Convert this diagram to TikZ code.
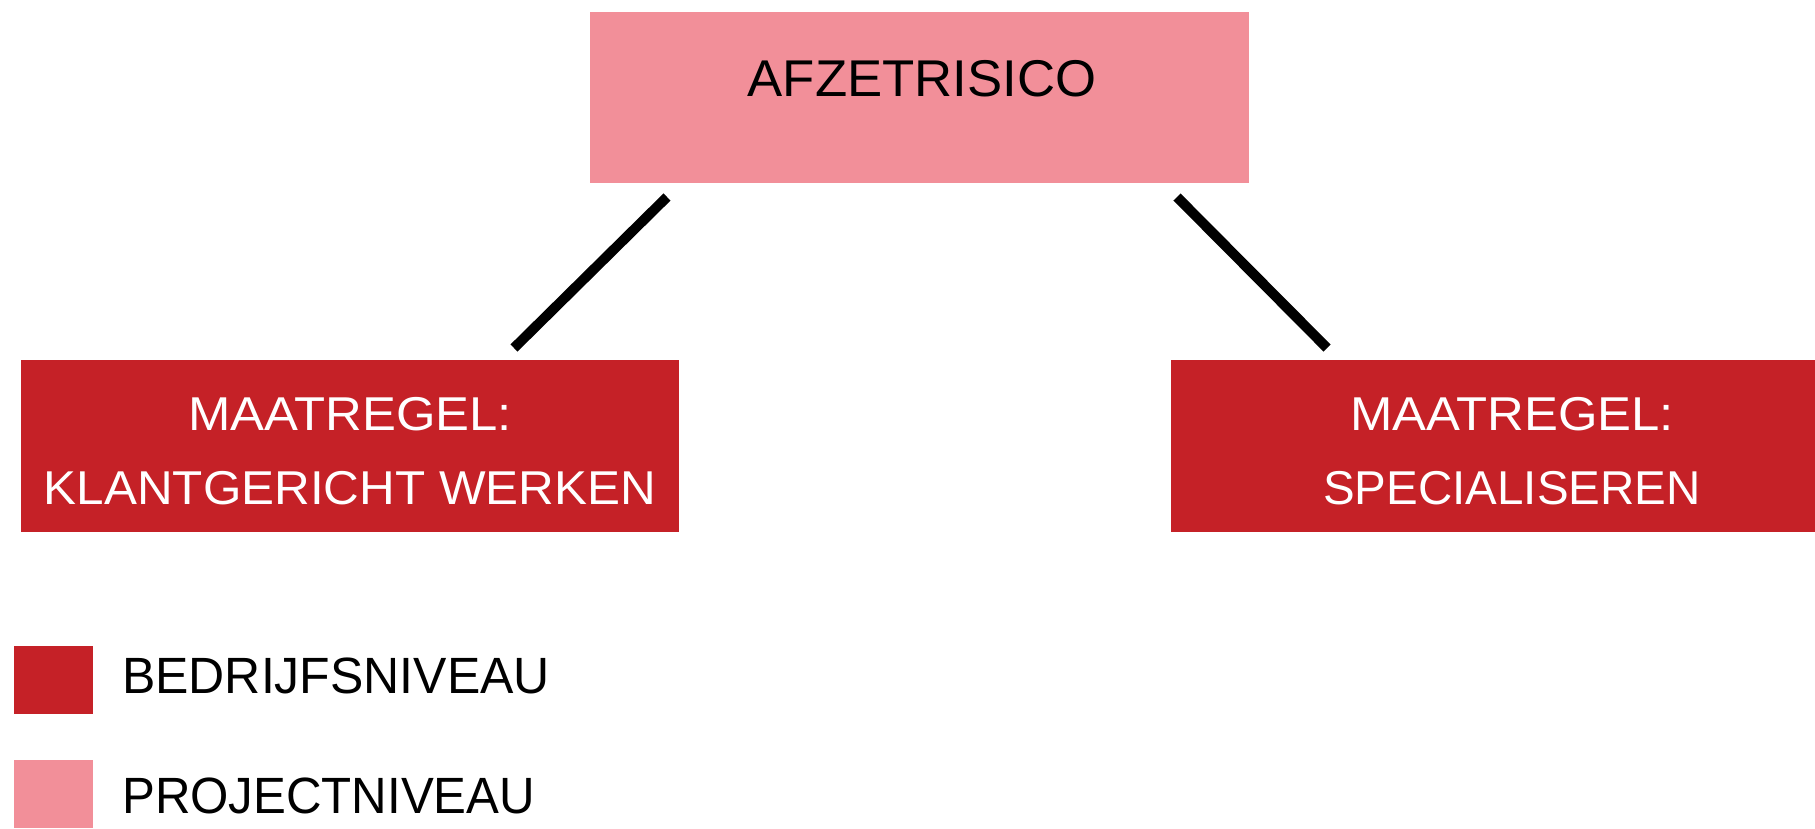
\documentclass[tikz,border=0pt]{standalone}
\usepackage{fontspec}
\setmainfont{Liberation Sans}
\usepackage{graphicx}
\definecolor{pinkbox}{RGB}{242,143,153}
\definecolor{redbox}{RGB}{197,33,39}
\newcommand\sxx[2]{\scalebox{#1}[1]{#2}}
\begin{document}
\begin{tikzpicture}[x=1pt,y=-1pt,
  box/.style={draw=none,inner sep=0pt,minimum width=#1},
  txt/.style={inner sep=0pt,align=center},
  conn/.style={line width=10pt,black}]
\useasboundingbox (0,0) rectangle (1815,828);
% boxes
\node[box=659pt,fill=pinkbox,minimum height=171pt] (top) at (919.5,97.5) {};
\node[box=658pt,fill=redbox,minimum height=172pt] (left) at (350,446) {};
\node[box=658pt,fill=redbox,minimum height=172pt] (right) at (1500,446) {};
% texts
\node[txt,font=\fontsize{51.7}{60}\selectfont] (toptxt) at (922,79) {\sxx{1.02}{AFZETRISICO}};
\node[txt,text=white,font=\fontsize{47.5}{74}\selectfont] (lefttxt) at (350,451)
  {\sxx{1.07}{MAATREGEL:}\\\sxx{1.04}{KLANTGERICHT WERKEN}};
\node[txt,text=white,font=\fontsize{47.5}{74}\selectfont] (righttxt) at (1512,451)
  {\sxx{1.07}{MAATREGEL:}\\\sxx{1.0}{SPECIALISEREN}};
% connectors
\coordinate (l1) at (667,197);
\coordinate (l2) at (514,348);
\coordinate (r1) at (1177,197);
\coordinate (r2) at (1327,348);
\draw[conn] (l1) -- (l2);
\draw[conn] (r1) -- (r2);
% legend
\node[box=79pt,fill=redbox,minimum height=68pt] (legA) at (53.5,680) {};
\node[box=79pt,fill=pinkbox,minimum height=68pt] (legB) at (53.5,794) {};
\node[txt,anchor=west,font=\fontsize{51}{60}\selectfont] (legAtxt) at (122,676) {\sxx{0.98}{BEDRIJFSNIVEAU}};
\node[txt,anchor=west,font=\fontsize{51}{60}\selectfont] (legBtxt) at (122,795.5) {\sxx{0.965}{PROJECTNIVEAU}};
\end{tikzpicture}
\end{document}
